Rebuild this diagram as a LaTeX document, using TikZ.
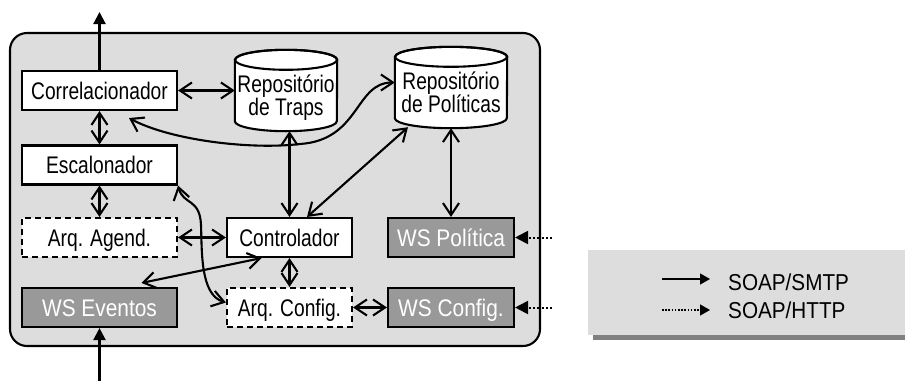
\documentclass[tikz,border=0pt]{standalone}
\usepackage{fontspec}
\setmainfont{Liberation Sans}[FakeStretch=0.8]
\newfontfamily\wsfont{Liberation Sans}[FakeStretch=0.87]
\newfontfamily\legfont{Liberation Sans}[FakeStretch=0.9]
\usetikzlibrary{arrows.meta,calc}
\definecolor{bggray}{HTML}{DDDDDD}
\definecolor{wsgray}{HTML}{999999}
\definecolor{shadowgray}{HTML}{808080}
\begin{document}
\begin{tikzpicture}[x=1pt,y=-1pt,
  font=\fontsize{24}{23}\selectfont,
  >={Straight Barb[length=12pt,width=16pt]},
  lw/.style={line width=2.1pt},
  box/.style={draw, lw, fill=white, minimum width=155pt, minimum height=39pt,
    inner sep=0pt, text height=17pt, text depth=0pt},
  dashbox/.style={dash pattern=on 6pt off 4pt},
  ws/.style={fill=wsgray, text=white, font=\wsfont\fontsize{24}{23}\selectfont},
  cylbox/.style={minimum height=81pt, inner sep=0pt},
  cylline/.style={anchor=base, inner sep=0pt},
  tri/.style={-{Triangle[length=12pt,width=12pt]}},
  dotline/.style={line width=2pt, dash pattern=on 2pt off 2.2pt, -{Triangle[length=13pt,width=13pt]}},
  legtext/.style={anchor=base west, inner sep=0pt, font=\legfont\fontsize{23}{23}\selectfont}
]
\path[use as bounding box] (0,0) rectangle (905,381);

% outer container
\draw[lw, fill=bggray, rounded corners=17pt] (10,33) rectangle (540,346);

% boxes
\node[box] (corr) at (99.5,90.5) {Correlacionador};
\node[box] (esc) at (99.5,165) {Escalonador};
\node[box, dashbox] (agend) at (99.5,237.5) {Arq. Agend.};
\node[box, ws] (wsev) at (99.5,307.5) {WS Eventos};
\node[box, minimum width=125pt] (ctrl) at (289.5,237.5) {Controlador};
\node[box, dashbox, minimum width=125pt] (cfg) at (289.5,307.5) {Arq. Config.};
\node[box, ws, minimum width=126pt] (wspol) at (451,237.5) {WS Política};
\node[box, ws, minimum width=126pt] (wscfg) at (451,307.5) {WS Config.};

% cylinders
\node[cylbox, minimum width=102pt] (traps) at (286,90.5) {};
\node[cylbox, minimum width=112pt] (pols) at (451,87.5) {};

\path[lw, draw, fill=white] ($(traps.north west)+(0,10)$) -- ($(traps.south west)+(0,-10)$)
  arc[start angle=180, end angle=360, x radius=51pt, y radius=10pt]
  -- ($(traps.north east)+(0,10)$)
  arc[start angle=0, end angle=180, x radius=51pt, y radius=10pt] -- cycle;
\draw[lw] ($(traps.north)+(0,10)$) ellipse[x radius=51pt, y radius=10pt];
\node[cylline] at ($(traps.center)+(0,1.5)$) {Repositório};
\node[cylline] at ($(traps.center)+(0,24.5)$) {de Traps};

\path[lw, draw, fill=white] ($(pols.north west)+(0,10)$) -- ($(pols.south west)+(0,-10)$)
  arc[start angle=180, end angle=360, x radius=56pt, y radius=10pt]
  -- ($(pols.north east)+(0,10)$)
  arc[start angle=0, end angle=180, x radius=56pt, y radius=10pt] -- cycle;
\draw[lw] ($(pols.north)+(0,10)$) ellipse[x radius=56pt, y radius=10pt];
\node[cylline] at ($(pols.center)+(0,1.5)$) {Repositório};
\node[cylline] at ($(pols.center)+(0,24.5)$) {de Políticas};

% connectors
\draw[lw,<->] (corr) -- (traps);
\draw[lw,<->] (corr) -- (esc);
\draw[lw,<->] (esc) -- (agend);
\draw[lw,<->] (agend) -- (ctrl);
\draw[lw,<->] (ctrl) -- (cfg);
\draw[lw,<->] (cfg) -- (wscfg);
\draw[lw,<->] (ctrl.north) -- (ctrl.north |- traps.south);
\draw[lw,<->] (wspol) -- (pols);
\draw[lw,<->] ($(ctrl.north)+(17.5,0)$) -- ($(pols.south)+(-43,-1)$);
\draw[lw,<->] ($(wsev.north)+(42,-4)$) -- ($(ctrl.south)+(-28,0)$);
\draw[lw,<->] ($(corr.south)+(29.5,7)$) .. controls (170,140) and (250,150) .. (300,144)
  .. controls (360,140) and (355,82.5) .. ($(pols.west)+(0,-5)$);
\draw[lw,<->] (esc.south east) .. controls (183,205) and (200,198) .. (201,225)
  .. controls (202,250) and (200,295) .. ($(cfg.west)+(0,-5)$);

% external arrows
\coordinate (top) at (99.5,12);
\coordinate (bot) at (99.5,381);
\draw[lw,tri] (corr) -- (top);
\draw[lw,tri] (bot) -- (wsev);
\coordinate (hpol) at (552,237.5);
\coordinate (hcfg) at (552,307.5);
\draw[dotline] (hpol) -- (wspol);
\draw[dotline] (hcfg) -- (wscfg);

% legend
\fill[shadowgray] (593,335) rectangle (905,340);
\fill[bggray] (588,250) rectangle (905,335);
\coordinate (l1a) at (662,279);
\coordinate (l1b) at (710,279);
\coordinate (l2a) at (662,310);
\coordinate (l2b) at (710,310);
\draw[line width=1.3pt, -{Triangle[length=10pt,width=11pt]}] (l1a) -- (l1b);
\draw[line width=1.5pt, dash pattern=on 1.5pt off 1.7pt, -{Triangle[length=10pt,width=11pt]}] (l2a) -- (l2b);
\node[legtext] (t1) at (728,290) {SOAP/SMTP};
\node[legtext] (t2) at (728,318) {SOAP/HTTP};
\end{tikzpicture}
\end{document}
